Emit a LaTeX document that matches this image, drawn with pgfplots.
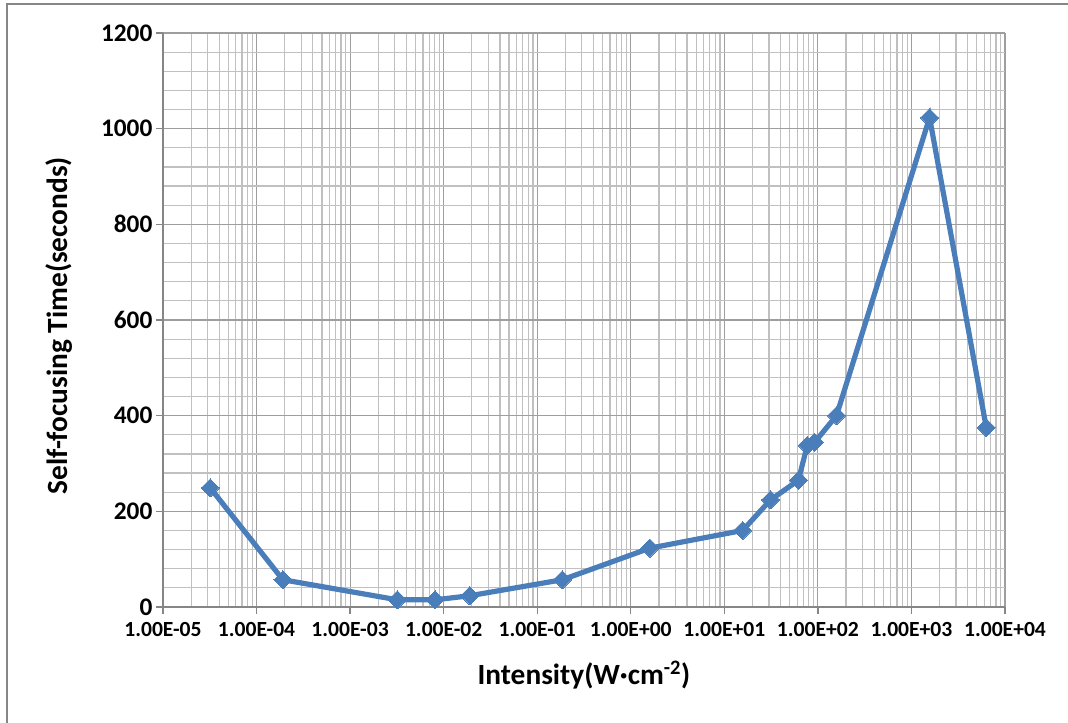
\documentclass[border=0pt]{standalone}
\usepackage{pgfplots}
\pgfplotsset{compat=1.18}
\usepackage{fontspec}
\setmainfont{Carlito}
\definecolor{serblue}{RGB}{74,126,187}
\definecolor{majgrid}{RGB}{134,134,134}
\definecolor{mingrid}{RGB}{192,192,192}
\begin{document}
\begin{tikzpicture}
\path[use as bounding box] (-122.25pt,-87pt) rectangle (678.75pt,455.25pt);
\draw[majgrid, line width=1.5pt] (-117pt,-87pt) -- (-117pt,452.25pt) -- (678.75pt,452.25pt);
\begin{axis}[
  at={(0,0)}, anchor=south west,
  width=631.5pt, height=430.5pt, scale only axis,
  xmode=log, xmin=1e-5, xmax=1e4, ymin=0, ymax=1200,
  xtick={1e-5,1e-4,1e-3,1e-2,1e-1,1e0,1e1,1e2,1e3,1e4},
  xticklabels={1.00E-05,1.00E-04,1.00E-03,1.00E-02,1.00E-01,1.00E+00,1.00E+01,1.00E+02,1.00E+03,1.00E+04},
  ytick={0,200,400,600,800,1000,1200},
  minor y tick num=4,
  grid=both,
  major grid style={majgrid!80, line width=0.9pt},
  minor grid style={mingrid, line width=0.9pt},
  axis x line*=bottom, axis y line*=left,
  axis line style={majgrid, line width=1.2pt},
  tick align=outside,
  major tick length=5.25pt, minor tick length=0pt,
  tick style={majgrid, line width=1pt},
  /pgf/number format/assume math mode=true,
  /pgf/number format/set thousands separator={},
  x tick label style={font=\bfseries\fontsize{16.2}{17}\selectfont, yshift=-5pt, inner sep=1pt},
  y tick label style={font=\bfseries\fontsize{19}{19}\selectfont, xshift=-2pt, inner sep=0.5pt},
  xlabel={Intensity(W·cm\textsuperscript{-2})},
  ylabel={Self-focusing Time(seconds)},
  label style={font=\bfseries\fontsize{22}{24}\selectfont},
  xlabel style={at={(axis description cs:0.5,-0.1185)}, anchor=center},
  ylabel style={at={(axis description cs:-0.1235,0.49)}, anchor=center},
]
\addplot[serblue, line width=3.9pt, mark=square*, mark size=4.8pt,
  mark options={rotate=45, fill=serblue, draw=serblue, line width=0pt}]
  coordinates {
  (3.2e-5,249) (1.91e-4,57) (3.2e-3,15) (8.1e-3,15) (1.9e-2,23.5)
  (0.186,57) (1.6,123) (15.7,160) (31.2,224) (62,265) (77,338)
  (92,344) (158,400) (1563,1023) (6310,375)
  };
\end{axis}
\end{tikzpicture}
\end{document}
